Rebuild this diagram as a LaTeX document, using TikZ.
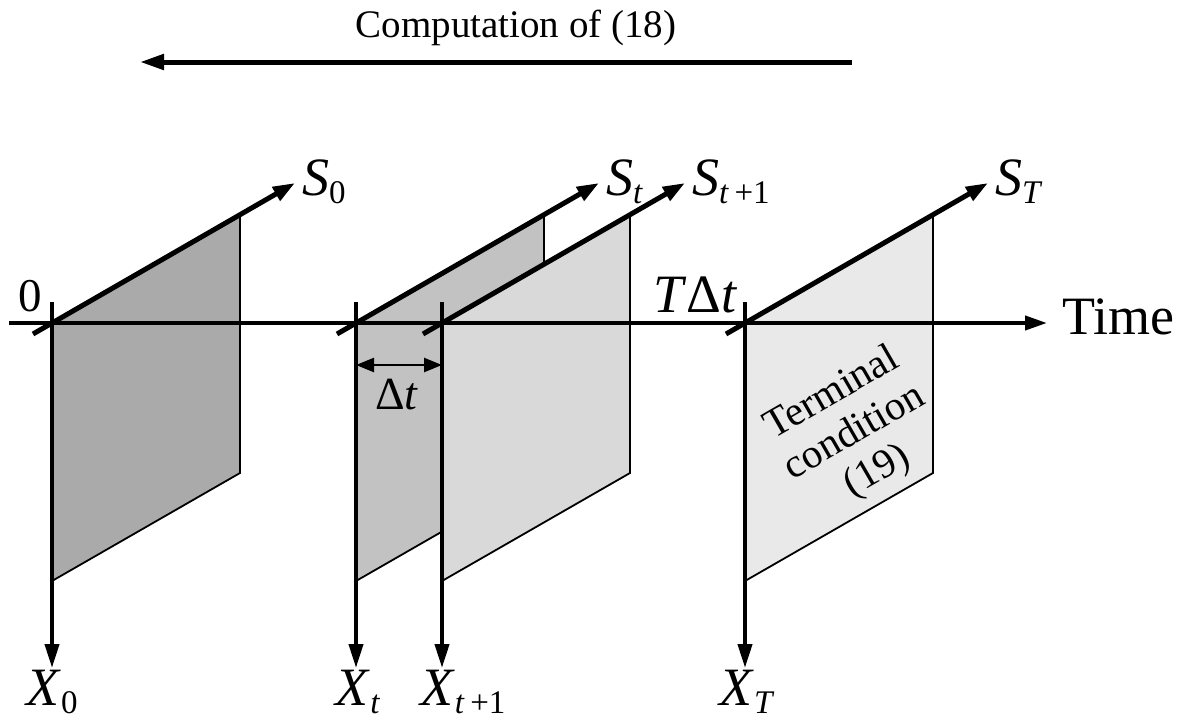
\documentclass[tikz,border=0pt]{standalone}
\usepackage{fontspec}
\setmainfont{Liberation Serif}
\usepackage{tikz}
\usetikzlibrary{arrows.meta,positioning,calc}
\usepackage{xcolor}
\definecolor{darkpane}{HTML}{AAAAAA}
\definecolor{midpane}{HTML}{C2C2C2}
\definecolor{lightpane}{HTML}{D9D9D9}
\definecolor{palepane}{HTML}{E9E9E9}
\newcommand{\axlab}[2]{\textit{#1}\raisebox{-8pt}{\fontsize{33}{33}\selectfont #2}}

\begin{document}
\begin{tikzpicture}[x=1pt, y=-1pt,
    pane/.style={draw=black, line width=1.8pt},
    saxis/.style={line width=5pt, -{Triangle[length=22pt,width=15pt]}},
    xaxis/.style={line width=4pt, -{Triangle[length=24pt,width=14pt]}},
    lab/.style={inner sep=0pt, font=\fontsize{54}{54}\selectfont}]
  \useasboundingbox (0,0) rectangle (1184,718);

  % Computation direction
  \node[inner sep=0pt, font=\fontsize{39}{40}\selectfont] (comp) at (516,28) {Computation of (18)};
  \coordinate (cstart) at (852,62);
  \coordinate (cend) at (140,62);
  \draw[line width=5pt, -{Triangle[length=24pt,width=15pt]}] (cstart) -- (cend);

  % Plane at time 0
  \begin{scope}[xshift=52pt, yshift=-323pt]
    \coordinate (o0) at (0,0);
    \filldraw[pane, fill=darkpane] (o0) -- (188,-108) -- (188,150) -- (0,258) -- cycle;
    \coordinate (s0a) at (-19,11);
    \coordinate (s0b) at (243,-140);
    \coordinate (x0a) at (0,-21);
    \coordinate (x0b) at (0,345);
    \draw[saxis] (s0a) -- (s0b);
    \draw[xaxis] (x0a) -- (x0b);
    \node[lab, anchor=base west] (s0) at (250,-128) {\axlab{S}{0}};
    \node[lab, anchor=base] (x0) at ($(x0b)+(0,37)$) {\axlab{X}{0}};
    \node[inner sep=0pt, font=\fontsize{47}{47}\selectfont] (zero) at (-22,-27) {0};
  \end{scope}

  % Plane at time t
  \begin{scope}[xshift=356pt, yshift=-323pt]
    \coordinate (ot) at (0,0);
    \filldraw[pane, fill=midpane] (ot) -- (188,-108) -- (188,150) -- (0,258) -- cycle;
    \coordinate (sta) at (-19,11);
    \coordinate (stb) at (243,-140);
    \coordinate (xta) at (0,-21);
    \coordinate (xtb) at (0,345);
    \draw[saxis] (sta) -- (stb);
    \draw[xaxis] (xta) -- (xtb);
    \node[lab, anchor=base west] (st) at (250,-128) {\axlab{S}{\textit{t}}};
    \node[lab, anchor=base] (xt) at ($(xtb)+(2,37)$) {\axlab{X}{\textit{t}}};
  \end{scope}

  % Plane at time t+1
  \begin{scope}[xshift=442pt, yshift=-323pt]
    \coordinate (ou) at (0,0);
    \filldraw[pane, fill=lightpane] (ou) -- (188,-108) -- (188,150) -- (0,258) -- cycle;
    \coordinate (sua) at (-19,11);
    \coordinate (sub) at (243,-140);
    \coordinate (xua) at (0,-21);
    \coordinate (xub) at (0,345);
    \draw[saxis] (sua) -- (sub);
    \draw[xaxis] (xua) -- (xub);
    \node[lab, anchor=base west] (su) at (250,-128) {\axlab{S}{\textit{t}\,+1}};
    \node[lab, anchor=base west] (xu) at ($(xub)+(-22,37)$) {\axlab{X}{\textit{t}\,+1}};
  \end{scope}

  % Plane at terminal time
  \begin{scope}[xshift=745pt, yshift=-323pt]
    \coordinate (oT) at (0,0);
    \filldraw[pane, fill=palepane] (oT) -- (188,-108) -- (188,150) -- (0,258) -- cycle;
    \coordinate (sTa) at (-19,11);
    \coordinate (sTb) at (243,-140);
    \coordinate (xTa) at (0,-21);
    \coordinate (xTb) at (0,345);
    \draw[saxis] (sTa) -- (sTb);
    \draw[xaxis] (xTa) -- (xTb);
    \node[lab, anchor=base west] (sT) at (250,-128) {\axlab{S}{\textit{T}}};
    \node[lab, anchor=base] (xT) at ($(xTb)+(2,37)$) {\axlab{X}{\textit{T}}};
    \node[inner sep=0pt, rotate=30, align=center,
          font=\fontsize{41}{45}\selectfont] (term) at (110,110) {Terminal\\condition\\(19)};
    \node[lab, anchor=base east] (tdt) at (-7,-11) {\textit{T}Δ\textit{t}};
  \end{scope}

  % Time axis
  \coordinate (ta) at (9,323);
  \coordinate (tb) at (1047,323);
  \draw[line width=4pt, -{Triangle[length=22pt,width=14pt]}] (ta) -- (tb);
  \node[lab, anchor=base west] (time) at (1062,334) {Time};

  % Step width
  \coordinate (dl) at ($(ot)+(0,42)$);
  \coordinate (dr) at ($(ou)+(0,42)$);
  \draw[line width=2.5pt, {Triangle[length=18pt,width=14pt]}-{Triangle[length=18pt,width=14pt]}] (dl) -- (dr);
  \node[inner sep=0pt, font=\fontsize{46}{46}\selectfont] (dt) at (397,395) {Δ\textit{t}};
\end{tikzpicture}
\end{document}
